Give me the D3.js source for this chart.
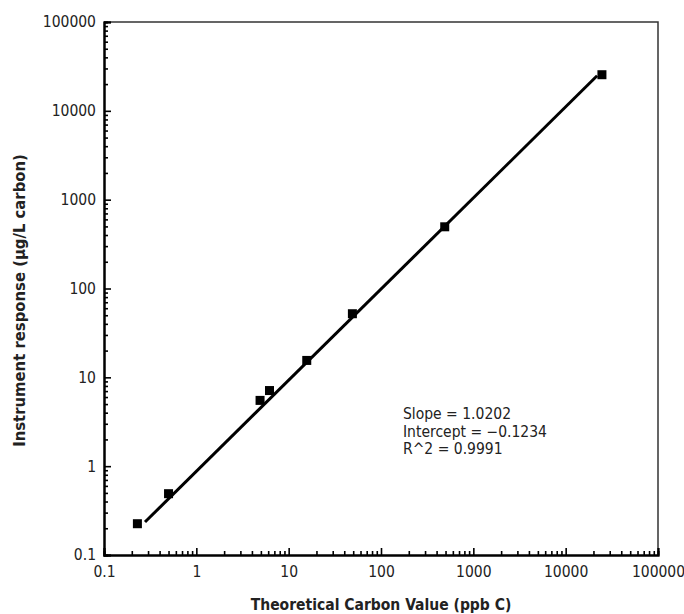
<!DOCTYPE html>
<html>
<head>
  <title>Carbon calibration</title>
  <style type="text/css">
    body { margin: 0; background: #fff; }
    svg text { font-family: "DejaVu Sans Condensed", "DejaVu Sans", sans-serif; fill: #222; }
  </style>
</head>
<body>
<div id="chart"></div>
<script src="https://d3js.org/d3.v7.min.js"></script>
<script type="text/javascript">
// measured points
var theoretical = [0.23, 0.5, 4.9, 6.2, 15.7, 49, 490, 24700];
var response = [0.225, 0.49, 5.5, 7.1, 15.5, 52, 495, 25500];
// regression line end points
var fitX = [0.278, 21900];
var fitY = [0.235, 24800];
var tickValues = [0.1, 1, 10, 100, 1000, 10000, 100000];
var fitText = ["Slope = 1.0202", "Intercept = \u22120.1234", "R^2 = 0.9991"];

var width = 684, height = 614;
var margin = {top: 22, right: 26, bottom: 59, left: 104};

var svg = d3.select("#chart").append("svg")
  .attr("width", width)
  .attr("height", height);

var x = d3.scaleLog().domain([0.1, 100000]).range([margin.left, width - margin.right]);
var y = d3.scaleLog().domain([0.1, 100000]).range([height - margin.bottom, margin.top]);

var minor = [];
tickValues.slice(0, -1).forEach(function (t) {
  for (var k = 2; k <= 9; k++) minor.push(t * k);
});

// frame (top/right)
svg.append("path")
  .attr("d", "M" + x.range()[0] + "," + y.range()[1] + "H" + x.range()[1] + "V" + y.range()[0])
  .attr("fill", "none")
  .attr("stroke", "#333")
  .attr("stroke-width", 1.5);

// x axis
var xg = svg.append("g").attr("transform", "translate(0," + y.range()[0] + ")");
xg.call(d3.axisBottom(x).tickValues(tickValues).tickFormat(d3.format("~g")).tickSize(-7).tickPadding(9));
xg.append("g").call(d3.axisBottom(x).tickValues(minor).tickFormat("").tickSize(-4));

// y axis
var yg = svg.append("g").attr("transform", "translate(" + x.range()[0] + ",0)");
yg.call(d3.axisLeft(y).tickValues(tickValues).tickFormat(d3.format("~g")).tickSize(-7).tickPadding(8));
yg.append("g").call(d3.axisLeft(y).tickValues(minor).tickFormat("").tickSize(-4));

svg.selectAll(".domain").attr("stroke", "#000").attr("stroke-width", 2);
svg.selectAll(".tick line").attr("stroke", "#000").attr("stroke-width", 1.6);
svg.selectAll(".tick text").attr("font-size", 15.5).attr("fill", "#222");
xg.selectAll(".tick text").attr("dy", "0.85em");

// fit line
svg.append("line")
  .attr("x1", x(fitX[0])).attr("y1", y(fitY[0]))
  .attr("x2", x(fitX[1])).attr("y2", y(fitY[1]))
  .attr("stroke", "#000")
  .attr("stroke-width", 3);

// points
svg.append("g")
  .selectAll("rect")
  .data(theoretical)
  .enter()
  .append("rect")
    .attr("x", function (d) { return x(d) - 4.5; })
    .attr("y", function (d, i) { return y(response[i]) - 4.5; })
    .attr("width", 9)
    .attr("height", 9)
    .attr("fill", "#000");

// fit stats
svg.append("g")
  .selectAll("text")
  .data(fitText)
  .enter()
  .append("text")
    .attr("x", 403)
    .attr("y", function (d, i) { return 419 + i * 17.5; })
    .attr("font-size", 15.5)
    .text(function (d) { return d; });

// axis titles
svg.append("text")
  .attr("x", (x.range()[0] + x.range()[1]) / 2)
  .attr("y", 610)
  .attr("text-anchor", "middle")
  .attr("font-size", 15.5)
  .attr("font-weight", "bold")
  .text("Theoretical Carbon Value (ppb C)");

svg.append("text")
  .attr("transform", "translate(25," + ((y.range()[0] + y.range()[1]) / 2 + 12) + ")rotate(-90)")
  .attr("text-anchor", "middle")
  .attr("font-size", 16.5)
  .attr("font-weight", "bold")
  .text("Instrument response (\u00b5g/L carbon)");
</script>
</body>
</html>
